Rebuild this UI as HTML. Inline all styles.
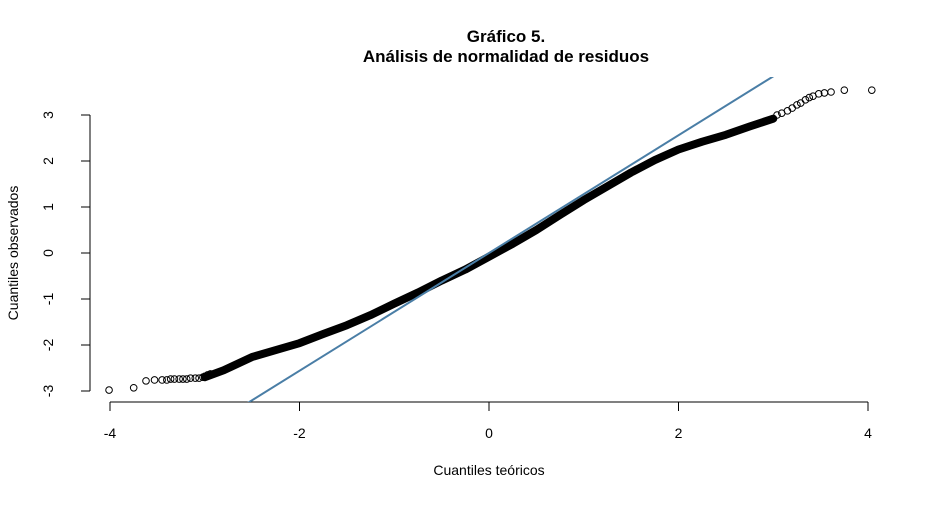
<!DOCTYPE html>
<html><head><meta charset="utf-8"><style>
body{margin:0;background:#fff}
svg text{font-family:"Liberation Sans",Arial,sans-serif;fill:#000}
</style></head><body>
<svg width="943" height="500" viewBox="0 0 943 500" id="c">
<text x="506" y="42" font-size="17" font-weight="bold" text-anchor="middle">Gráfico 5.</text>
<text x="506" y="62" font-size="17" font-weight="bold" text-anchor="middle">Análisis de normalidad de residuos</text>
<text x="489" y="475" font-size="14" text-anchor="middle">Cuantiles teóricos</text>
<text transform="translate(18,253) rotate(-90)" font-size="14" text-anchor="middle">Cuantiles observados</text>
<g id="ax"></g>
<defs><clipPath id="clip"><rect x="80" y="77" width="820" height="325"/></clipPath></defs>
<g id="pts"></g>
</svg>
<script>
const xTicks=[-4,-2,0,2,4];
const yTicks=[-3,-2,-1,0,1,2,3];
const coreX=[-3.0,-2.8,-2.5,-2.2,-2.0,-1.75,-1.5,-1.25,-1.0,-0.75,-0.5,-0.25,0,0.25,0.5,0.75,1.0,1.25,1.5,1.75,2.0,2.25,2.5,2.75,3.0];
const coreY=[-2.7,-2.55,-2.26,-2.08,-1.96,-1.76,-1.57,-1.35,-1.1,-0.86,-0.6,-0.36,-0.08,0.2,0.5,0.83,1.15,1.45,1.75,2.02,2.25,2.42,2.57,2.75,2.92];
const tailX=[-4.01,-3.75,-3.62,-3.53,-3.45,-3.40,-3.36,-3.32,-3.27,-3.23,-3.19,-3.15,-3.10,-3.06,-3.02,-3.0,-2.97,-2.94,3.04,3.09,3.15,3.20,3.25,3.29,3.34,3.38,3.42,3.48,3.54,3.61,3.75,4.04];
const tailY=[-2.98,-2.93,-2.78,-2.76,-2.76,-2.76,-2.74,-2.74,-2.74,-2.74,-2.74,-2.72,-2.72,-2.72,-2.70,-2.68,-2.65,-2.63,3.0,3.04,3.09,3.15,3.22,3.26,3.33,3.38,3.41,3.46,3.48,3.50,3.54,3.54];
const lineSlope=1.28, lineInt=0.0;
const X=v=>489+v*94.75, Y=v=>253-v*46;
const NS='http://www.w3.org/2000/svg';
const svg=document.getElementById('c'),ax=document.getElementById('ax'),pts=document.getElementById('pts');
function mk(t,a,p){const e=document.createElementNS(NS,t);for(const k in a)e.setAttribute(k,a[k]);(p||svg).appendChild(e);return e;}
let e=mk('line',{x1:X(-4),x2:X(4),y1:402,y2:402,stroke:'#000'},ax);


e=mk('line',{x1:90,x2:90,y1:Y(-3),y2:Y(3),stroke:'#000'},ax);


xTicks.forEach(v=>{
 let t=mk('line',{x1:X(v),x2:X(v),y1:402,y2:411,stroke:'#000'},ax);
 
 
 let l=mk('text',{x:X(v),y:438,'font-size':14,'text-anchor':'middle'},ax);l.textContent=v;
 
 
});
yTicks.forEach(v=>{
 let t=mk('line',{x1:81,x2:90,y1:Y(v),y2:Y(v),stroke:'#000'},ax);
 
 
 let l=mk('text',{transform:`translate(53,${Y(v)}) rotate(-90)`,'font-size':14,'text-anchor':'middle'},ax);l.textContent=v;
 
 
});
let d=coreX.map((v,i)=>(i?'L':'M')+X(v)+' '+Y(coreY[i])).join(' ');
e=mk('path',{d:d,fill:'none',stroke:'#000','stroke-width':8,'stroke-linejoin':'round','stroke-linecap':'round'},pts);


tailX.forEach((v,i)=>{
 let c=mk('circle',{cx:X(v),cy:Y(tailY[i]),r:3.3,fill:'none',stroke:'#000','stroke-width':1},pts);
 
 
});
e=mk('line',{x1:X(-4),y1:Y(lineInt+lineSlope*-4),x2:X(4),y2:Y(lineInt+lineSlope*4),stroke:'#4a7ea6','stroke-width':2,'clip-path':'url(#clip)'},pts);


</script>
</body></html>
